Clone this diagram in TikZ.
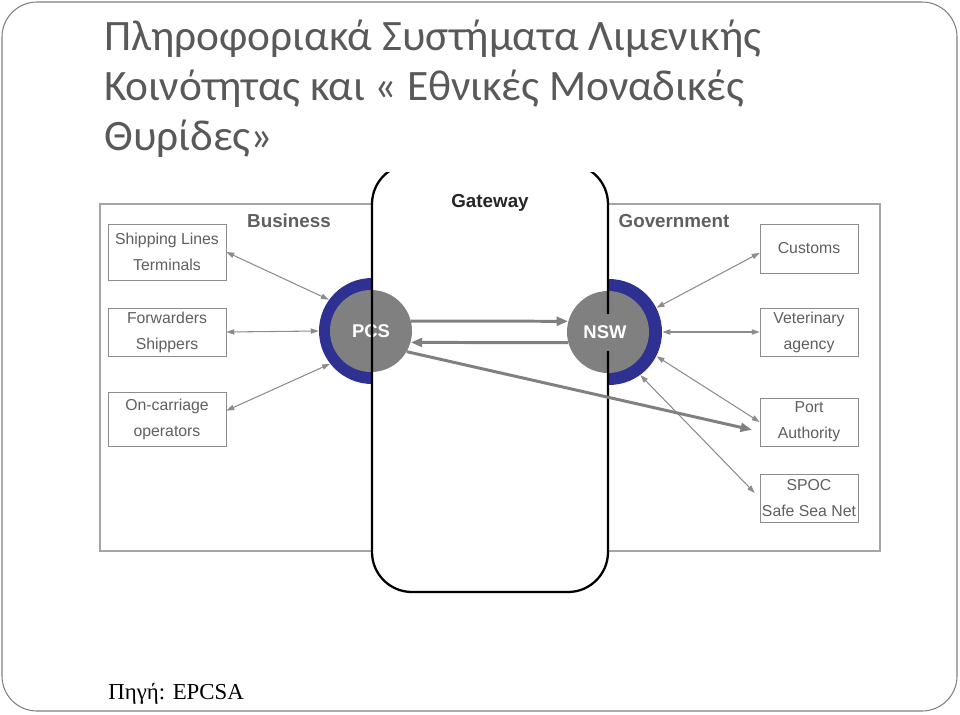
\documentclass[tikz,border=0pt]{standalone}
\usepackage{fontspec}
\setmainfont{Liberation Serif}
\setsansfont{Liberation Sans}
\newfontfamily\titlefont{Carlito}
\usetikzlibrary{arrows.meta}
\definecolor{ringblue}{RGB}{46,49,146}
\definecolor{hubgray}{RGB}{128,128,128}
\definecolor{linegray}{RGB}{140,140,140}
\definecolor{framegray}{RGB}{165,165,165}
\definecolor{textgray}{RGB}{95,95,95}
\definecolor{titlegray}{RGB}{89,89,89}

\begin{document}
\begin{tikzpicture}
[x=0.02cm, y=-0.02cm,
 party/.style={rectangle, draw=linegray, fill=white, minimum width=2.36cm, inner ysep=1pt,
   text=textgray, font=\sffamily\fontsize{9}{14.8}\selectfont, align=center},
 agency/.style={party, minimum width=1.96cm, inner xsep=1pt},
 ring/.style={circle, fill=ringblue, inner sep=0pt, minimum size=2.12cm},
 hub/.style={circle, fill=hubgray, inner sep=0pt, minimum size=1.64cm, text=white,
   font=\sffamily\bfseries\fontsize{10.5}{12}\selectfont},
 hublabel/.style={rectangle, fill=hubgray, inner xsep=1pt, minimum height=0.74cm, text=white,
   font=\sffamily\bfseries\fontsize{10.5}{12}\selectfont},
 link/.style={draw=linegray, line width=0.6pt,
   arrows={Triangle[length=4.5pt,width=3pt]-Triangle[length=4.5pt,width=3pt]}},
 flow/.style={draw=hubgray, line width=1.7pt, arrows={-Triangle[length=6.5pt,width=5pt]}},
 heading/.style={font=\sffamily\bfseries\fontsize{10.7}{12}\selectfont, text=textgray}]

\useasboundingbox (0,0) rectangle (960,714);

% slide frame, title and source
\draw[gray, line width=0.6pt, rounded corners=0.7cm] (2,2) rectangle (957,711);
\node[anchor=base west, inner sep=0pt, align=left, text=titlegray,
  font=\titlefont\fontsize{24.7}{28.45}\selectfont] (title) at (104,150)
  {Πληροφοριακά Συστήματα Λιμενικής\\Κοινότητας και « Εθνικές Μοναδικές\\Θυρίδες»};
\node[anchor=base west, inner sep=0pt, font=\fontsize{13}{15}\selectfont] (source) at (108,699)
  {Πηγή: EPCSA};

% business / government area
\draw[framegray, line width=0.6pt] (100,204) rectangle (880,551);
\node[heading] (business) at (289,221) {Business};
\node[heading] (government) at (674,221) {Government};

% rings behind the gateway
\node[ring] (pcsring) at (372,331) {};
\node[ring] (nswring) at (609,332) {};

% gateway box (its top is hidden under the title)
\begin{scope}
  \clip (0,172) rectangle (960,714);
  \fill[white, rounded corners=0.8cm] (372,164) rectangle (608,592);
\end{scope}

\node[hub] (pcs) at (371,331) {PCS};
\node[hub] (nsw) at (608,332) {};

\begin{scope}
  \clip (0,172) rectangle (960,714);
  \draw[line width=1.3pt, rounded corners=0.8cm] (372,164) rectangle (608,592);
\end{scope}
\node[heading, text=black!85] (gateway) at (490,203) {Gateway};
\node[hublabel] (nswlabel) at (605,332) {NSW};

% parties on both sides
\node[party, minimum height=1.12cm] (shipping) at (167,252) {Shipping Lines\\Terminals};
\node[party, minimum height=0.96cm] (forwarders) at (167,332) {Forwarders\\Shippers};
\node[party, minimum height=1.08cm] (oncarriage) at (167,419) {On-carriage\\operators};
\node[agency, minimum height=0.98cm] (customs) at (809,248.5) {Customs};
\node[agency, minimum height=0.96cm] (veterinary) at (809,332) {Veterinary\\agency};
\node[agency, minimum height=0.96cm] (port) at (809,422) {Port\\Authority};
\node[agency, minimum height=0.96cm] (spoc) at (809,498) {SPOC\\Safe Sea Net};

\draw[link] (shipping.east) -- (pcsring.144);
\draw[link] (forwarders.east) -- (pcsring.west);
\draw[link] (oncarriage.8) -- (pcsring.218);
\draw[link] (customs.185) -- (nswring.27);
\draw[link] (veterinary.west) -- (nswring.east);
\draw[link] (port.west) -- (nswring.-27);
\draw[link, shorten <=4pt] (spoc.west) -- (nswring.-54);

\draw[flow] (pcs.14) -- (nsw.165);
\draw[flow] (nsw.195) -- (pcs.-16);
\draw[flow, shorten >=4.5pt] (pcs.-30) -- (port.191);

\end{tikzpicture}
\end{document}
